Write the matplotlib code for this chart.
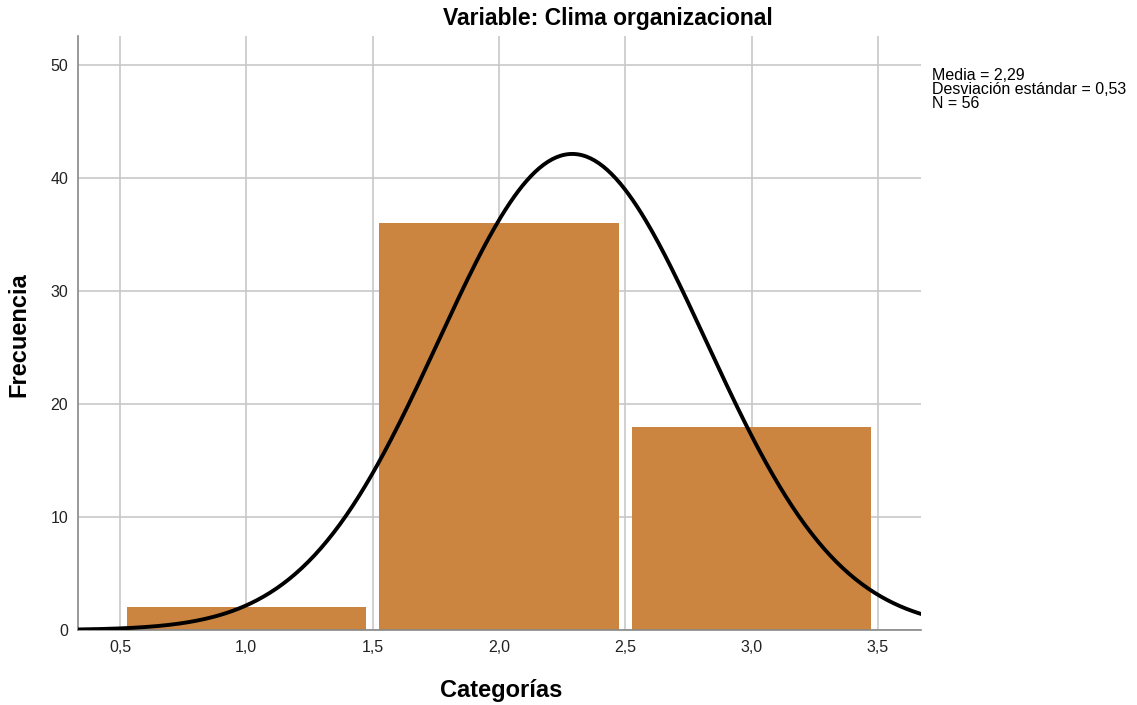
import numpy as np
import matplotlib
matplotlib.use('Agg')
import matplotlib.pyplot as plt

plt.rcParams['font.family'] = ['Liberation Sans', 'DejaVu Sans']

# histogram data
bin_centers = [1.0, 2.0, 3.0]
counts = [2, 36, 18]
media = 2.29
desv = 0.53
n = 56
xticks = [0.5, 1.0, 1.5, 2.0, 2.5, 3.0, 3.5]
yticks = [0, 10, 20, 30, 40, 50]

fig = plt.figure(figsize=(11.37, 7.05), dpi=100)
ax = fig.add_axes([0.0686, 0.1064, 0.7414, 0.8426])

ax.bar(bin_centers, counts, width=0.947, color='#CC8540', zorder=2)

# normal curve scaled to counts (bin width 1)
xs = np.linspace(0.33, 3.68, 400)
ys = n * 1.0 / (desv * np.sqrt(2 * np.pi)) * np.exp(-0.5 * ((xs - media) / desv) ** 2)
ax.plot(xs, ys, color='black', lw=2.8, zorder=3, solid_capstyle='butt')

ax.set_xlim(0.334, 3.67)
ax.set_ylim(0, 52.6)
ax.set_xticks(xticks)
ax.set_xticklabels([('%.1f' % t).replace('.', ',') for t in xticks], fontsize=11.5, color='#222222')
ax.set_yticks(yticks)
ax.set_yticklabels([str(t) for t in yticks], fontsize=11.5, color='#222222')
ax.tick_params(length=0, pad=7)
ax.grid(True, color='#c8c8c8', lw=1.2, zorder=0)
ax.set_axisbelow(True)
for s in ['top', 'right']:
    ax.spines[s].set_visible(False)
for s in ['left', 'bottom']:
    ax.spines[s].set_color('#888888')
    ax.spines[s].set_linewidth(1.2)

fig.text(501 / 1137, 1 - 690 / 705, 'Categorías', fontsize=17, fontweight='bold',
         ha='center', va='center')
fig.text(19 / 1137, 1 - 335 / 705, 'Frecuencia', fontsize=17, fontweight='bold',
         ha='center', va='center', rotation=90)

fig.text(608 / 1137, 1 - 18 / 705, 'Variable: Clima organizacional', fontsize=16.5,
         fontweight='bold', ha='center', va='center')

fig.text(932 / 1137, 1 - 68 / 705,
         'Media = %s\nDesviación estándar = %s\nN = %d' % (('%.2f' % media).replace('.', ','),
                                                         ('%.2f' % desv).replace('.', ','), n),
         fontsize=11.5, ha='left', va='top', linespacing=0.9)

fig.savefig('out.png', dpi=100)
